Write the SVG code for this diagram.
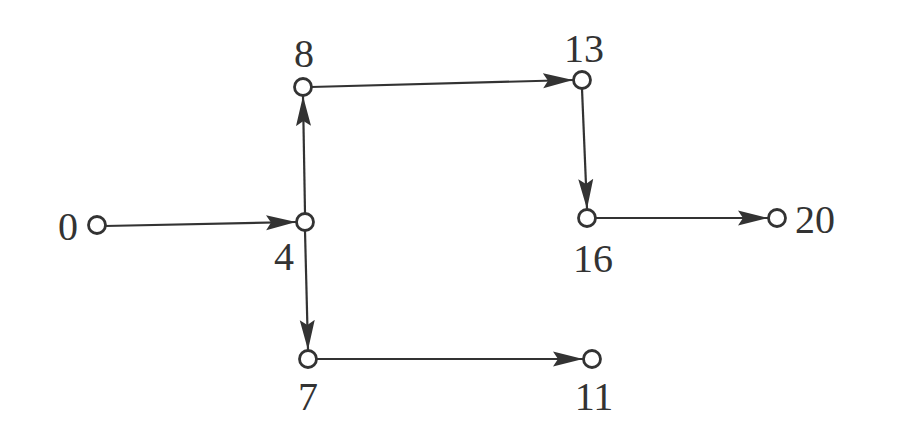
<svg xmlns="http://www.w3.org/2000/svg" width="900" height="438" viewBox="0 0 900 438">
<defs>
<style>
.edge{stroke:#333;stroke-width:2.2;fill:none;marker-end:url(#arr);}
.node circle{fill:#fff;stroke:#333;stroke-width:2.8;}
.lbl{font-family:"Liberation Serif","Times New Roman",serif;font-size:40px;fill:#333;}
</style>
<marker id="arr" markerUnits="userSpaceOnUse" markerWidth="32" markerHeight="18" refX="30" refY="8" orient="auto">
<path d="M0,0.5 L30,8 L0,15.5 L5,8 z" fill="#333"/>
</marker>
</defs>
<rect width="900" height="438" fill="#fff"/>
<g id="connectors">
<line class="edge" x1="105" y1="226" x2="296" y2="222"/>
<line class="edge" x1="305" y1="213" x2="303" y2="96"/>
<line class="edge" x1="305" y1="231" x2="308" y2="350"/>
<line class="edge" x1="311" y1="87" x2="573" y2="80"/>
<line class="edge" x1="582" y1="89" x2="587" y2="209"/>
<line class="edge" x1="596" y1="218" x2="768" y2="218"/>
<line class="edge" x1="317" y1="359" x2="583" y2="359"/>
</g>
<g id="n0" class="node"><circle cx="97" cy="225" r="8.5"/><text class="lbl" x="68" y="240" text-anchor="middle">0</text></g>
<g id="n4" class="node"><circle cx="305" cy="222" r="8.5"/><text class="lbl" x="284" y="270" text-anchor="middle">4</text></g>
<g id="n8" class="node"><circle cx="303" cy="87" r="8.5"/><text class="lbl" x="304" y="67" text-anchor="middle">8</text></g>
<g id="n13" class="node"><circle cx="582" cy="80" r="8.5"/><text class="lbl" x="584" y="62" text-anchor="middle">13</text></g>
<g id="n16" class="node"><circle cx="587" cy="218" r="8.5"/><text class="lbl" x="593" y="272" text-anchor="middle">16</text></g>
<g id="n20" class="node"><circle cx="777" cy="218" r="8.5"/><text class="lbl" x="815" y="233" text-anchor="middle">20</text></g>
<g id="n7" class="node"><circle cx="308" cy="359" r="8.5"/><text class="lbl" x="308" y="410" text-anchor="middle">7</text></g>
<g id="n11" class="node"><circle cx="592" cy="359" r="8.5"/><text class="lbl" x="594" y="410" text-anchor="middle">11</text></g>
</svg>
